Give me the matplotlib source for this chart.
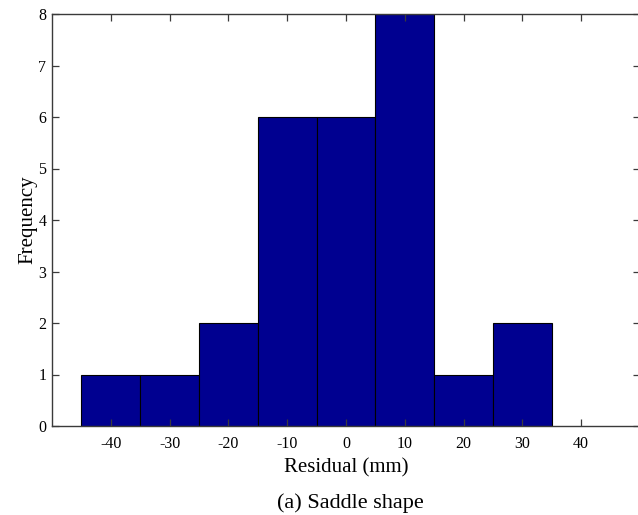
"""Histogram of residuals for the saddle shape fit"""

import numpy as np
import matplotlib.pyplot as plt

plt.rcParams["font.family"] = ["Liberation Serif", "DejaVu Serif"]
plt.rcParams["axes.unicode_minus"] = False

# Bin centres (mm) and counts
bin_centers = [-40, -30, -20, -10, 0, 10, 20, 30]
counts = [1, 1, 2, 6, 6, 8, 1, 2]
x_ticks = [-40, -30, -20, -10, 0, 10, 20, 30, 40]
y_ticks = [0, 1, 2, 3, 4, 5, 6, 7, 8]

BAR_COLOR = "#000090"
SPINE_COLOR = "#3a3a3a"

fig = plt.figure(figsize=(6.38, 5.15), dpi=100)
ax = fig.add_axes([52 / 638, 1 - 426 / 515, 588 / 638, 412 / 515])

ax.bar(bin_centers, counts, width=10, color=BAR_COLOR, edgecolor="black",
       linewidth=0.8)

ax.set_xlim(-50, 50)
ax.set_ylim(0, 8)
ax.set_xticks(x_ticks)
ax.set_yticks(y_ticks)
ax.tick_params(direction="in", length=5, width=0.9, color=SPINE_COLOR,
               top=True, right=True, labelsize=11.5)
ax.tick_params(axis="x", pad=7)
ax.tick_params(axis="y", pad=4)
for spine in ax.spines.values():
    spine.set_color(SPINE_COLOR)
    spine.set_linewidth(1.0)

ax.set_xlabel("Residual (mm)", fontsize=15, labelpad=5)
ax.set_ylabel("Frequency", fontsize=15, labelpad=1)

# caption under the plot
fig.text(0.549, 1 - 503 / 515, "(a) Saddle shape", fontsize=16,
         ha="center", va="center")

fig.savefig("out.png", dpi=100)
